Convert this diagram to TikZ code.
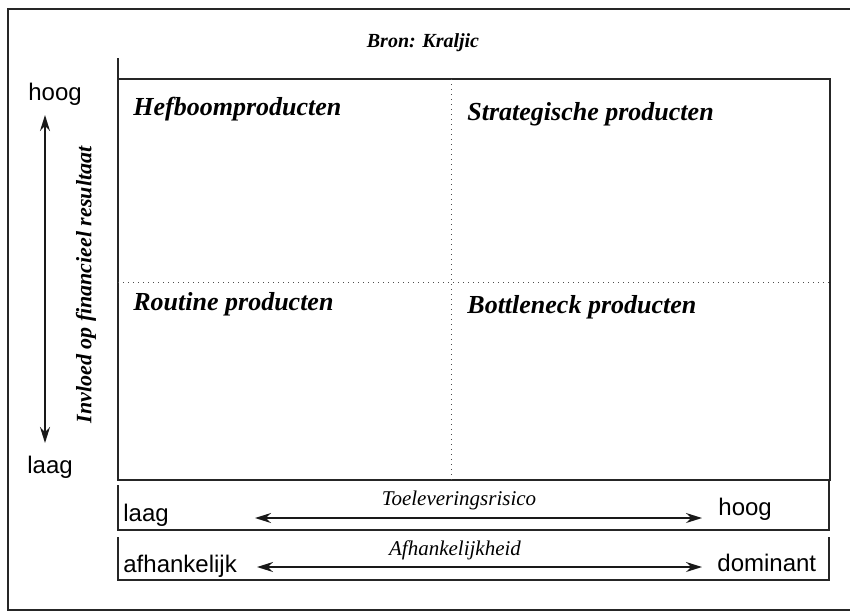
\documentclass[tikz,border=0pt]{standalone}
\usepackage{fontspec}
\setmainfont{Liberation Serif}
\setsansfont{Liberation Sans}
\usetikzlibrary{arrows.meta}
\begin{document}
\begin{tikzpicture}[x=0.5pt,y=-0.5pt,
    frame/.style={draw=black!85,line width=0.75pt},
    sep/.style={draw=black!70,line width=0.5pt,dotted},
    quad/.style={anchor=base west,inner sep=0pt,font=\fontsize{13}{15}\selectfont\bfseries\itshape},
    axlabel/.style={anchor=base west,inner sep=0pt,font=\sffamily\fontsize{12}{14}\selectfont},
    axtitle/.style={anchor=base,inner sep=0pt,font=\fontsize{10.5}{12}\selectfont\itshape},
    axis/.style={black!90,line width=0.8pt,{Stealth[length=8pt,width=5pt]}-{Stealth[length=8pt,width=5pt]}}]
  \useasboundingbox (0,0) rectangle (850,612);
  % outer frame, open to the right
  \draw[frame] (852,9) -- (8,9) -- (8,610) -- (852,610);
  % the matrix with its four fields
  \draw[frame] (118,79) rectangle (830,480);
  \draw[frame] (118,58) -- (118,79);
  \draw[sep] (118,282) -- (830,282);
  \draw[sep] (451,79) -- (451,480);
  \node[quad] (hefboom) at (133,115) {Hefboomproducten};
  \node[quad] (strat) at (467,120) {Strategische producten};
  \node[quad] (routine) at (133,310) {Routine producten};
  \node[quad] (bottle) at (467,313) {Bottleneck producten};
  \node[anchor=base,inner sep=0pt,font=\fontsize{10}{12}\selectfont\bfseries\itshape] (bron) at (423,47) {Bron: Kraljic};
  % vertical axis
  \node[axlabel] (vhoog) at (28,100) {hoog};
  \node[axlabel] (vlaag) at (27,473) {laag};
  \coordinate (vtop) at (45,115);
  \coordinate (vbot) at (45,443);
  \draw[axis] (vtop) -- (vbot);
  \node[rotate=90,inner sep=0pt,font=\fontsize{11}{13}\selectfont\bfseries\itshape] (invloed) at (86,285) {Invloed op financieel resultaat};
  % the two strips below
  \draw[frame] (118,485) -- (118,530) -- (829,530) -- (829,480);
  \draw[frame] (118,537) -- (118,580) -- (829,580) -- (829,537);
  \node[axlabel] (rlaag) at (123,521) {laag};
  \node[axlabel] (rhoog) at (718,515) {hoog};
  \node[axtitle] (risico) at (459,505) {Toeleveringsrisico};
  \coordinate (rleft) at (255,518);
  \coordinate (rright) at (702,518);
  \draw[axis] (rleft) -- (rright);
  \node[axlabel] (afh) at (123,572) {afhankelijk};
  \node[axlabel] (dom) at (717,571) {dominant};
  \node[axtitle] (afhheid) at (455,555) {Afhankelijkheid};
  \coordinate (aleft) at (257,567);
  \coordinate (aright) at (702,567);
  \draw[axis] (aleft) -- (aright);
\end{tikzpicture}
\end{document}
